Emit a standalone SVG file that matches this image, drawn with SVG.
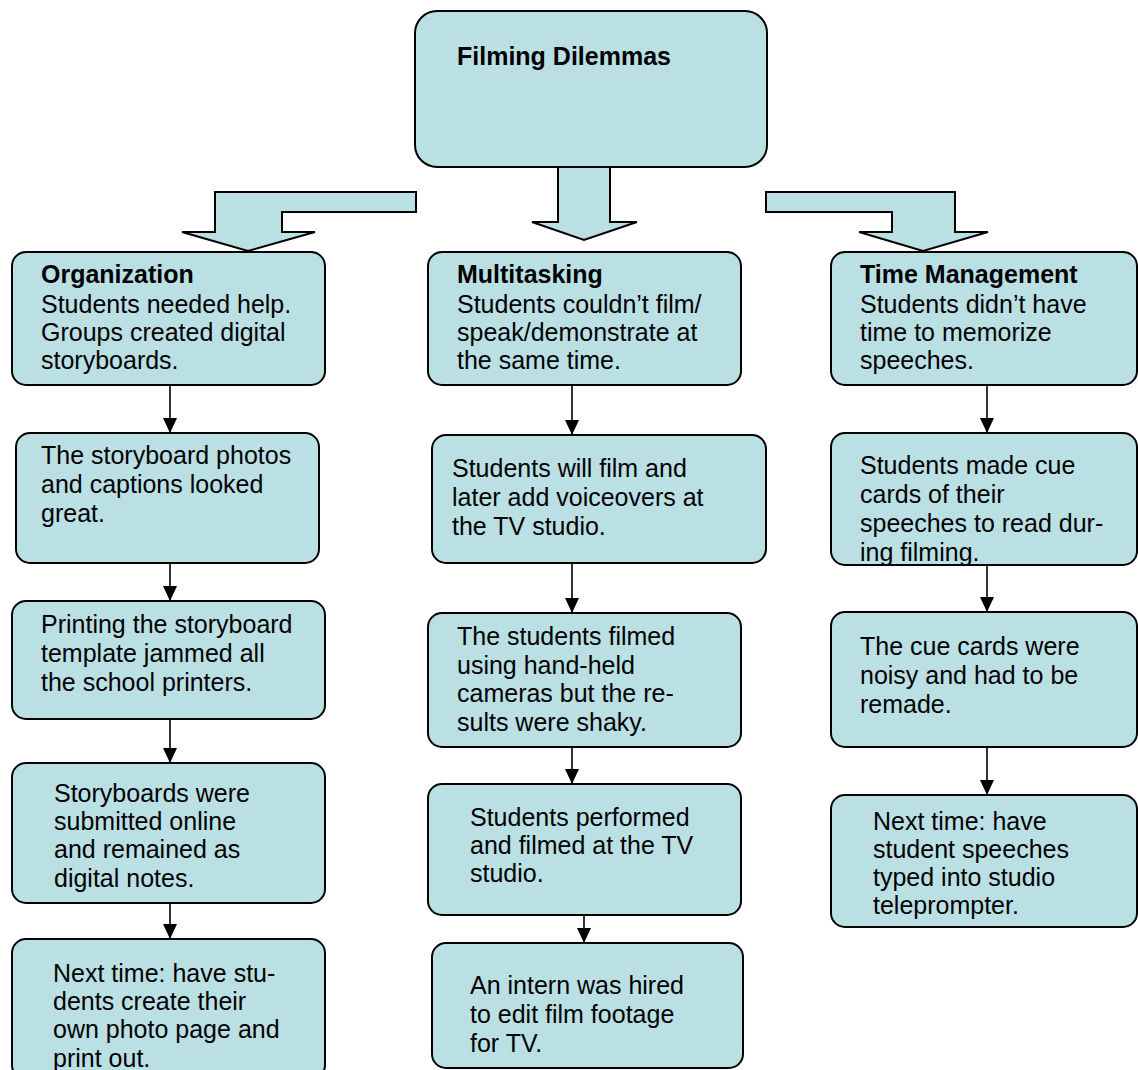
<svg xmlns="http://www.w3.org/2000/svg" width="1138" height="1070" viewBox="0 0 1138 1070">
<defs>
<style>
.box{fill:#BAE0E4;stroke:#000;stroke-width:2}
.blk{fill:#BAE0E4;stroke:#000;stroke-width:2;stroke-linejoin:miter}
.t{font-family:"Liberation Sans",Arial,sans-serif;font-size:25px;fill:#000}
.b{font-weight:bold}
.c{stroke:#000;stroke-width:1.6;fill:none}
</style>
<marker id="ah" markerUnits="userSpaceOnUse" markerWidth="16" markerHeight="16" refX="15" refY="7" orient="auto">
<path d="M0,0 L15,7 L0,14 z" fill="#000"/>
</marker>
</defs>
<rect width="1138" height="1070" fill="#fff"/>

<g id="connectors">
<polygon class="blk" points="416,192 215,192 215,232 182,232 248,251 315,232 282,232 282,212 416,212"/>
<polygon class="blk" points="558,167 610,167 610,222 637,222 584,240 532,222 558,222"/>
<polygon class="blk" points="766,192 955,192 955,232 988,232 923,251 859,232 892,232 892,212 766,212"/>
<line class="c" x1="170" y1="385" x2="170" y2="433" marker-end="url(#ah)"/>
<line class="c" x1="170" y1="563" x2="170" y2="601" marker-end="url(#ah)"/>
<line class="c" x1="170" y1="719" x2="170" y2="763" marker-end="url(#ah)"/>
<line class="c" x1="170" y1="903" x2="170" y2="939" marker-end="url(#ah)"/>
<line class="c" x1="572" y1="385" x2="572" y2="435" marker-end="url(#ah)"/>
<line class="c" x1="572" y1="563" x2="572" y2="613" marker-end="url(#ah)"/>
<line class="c" x1="572" y1="747" x2="572" y2="784" marker-end="url(#ah)"/>
<line class="c" x1="584" y1="915" x2="584" y2="943" marker-end="url(#ah)"/>
<line class="c" x1="987" y1="385" x2="987" y2="433" marker-end="url(#ah)"/>
<line class="c" x1="987" y1="565" x2="987" y2="612" marker-end="url(#ah)"/>
<line class="c" x1="987" y1="747" x2="987" y2="795" marker-end="url(#ah)"/>
</g>

<g id="root">
<rect class="box" x="415" y="11" width="352" height="156" rx="22"/>
<text class="t b" x="457" y="65">Filming Dilemmas</text>
</g>

<g id="org1">
<rect class="box" x="12" y="252" width="313" height="133" rx="14"/>
<text class="t" x="41"><tspan class="b" x="41" y="283">Organization</tspan><tspan x="41" y="313">Students needed help.</tspan><tspan x="41" y="341">Groups created digital</tspan><tspan x="41" y="369">storyboards.</tspan></text>
</g>
<g id="org2">
<rect class="box" x="16" y="433" width="303" height="130" rx="14"/>
<text class="t"><tspan x="41" y="464">The storyboard photos</tspan><tspan x="41" y="493">and captions looked</tspan><tspan x="41" y="522">great.</tspan></text>
</g>
<g id="org3">
<rect class="box" x="12" y="601" width="313" height="118" rx="14"/>
<text class="t"><tspan x="41" y="633">Printing the storyboard</tspan><tspan x="41" y="662">template jammed all</tspan><tspan x="41" y="691">the school printers.</tspan></text>
</g>
<g id="org4">
<rect class="box" x="12" y="763" width="313" height="140" rx="14"/>
<text class="t"><tspan x="54" y="802">Storyboards were</tspan><tspan x="54" y="830">submitted online</tspan><tspan x="54" y="858">and remained as</tspan><tspan x="54" y="887">digital notes.</tspan></text>
</g>
<g id="org5">
<rect class="box" x="12" y="939" width="313" height="140" rx="14"/>
<text class="t"><tspan x="53" y="982">Next time: have stu-</tspan><tspan x="53" y="1010">dents create their</tspan><tspan x="53" y="1038">own photo page and</tspan><tspan x="53" y="1067">print out.</tspan></text>
</g>

<g id="mt1">
<rect class="box" x="428" y="252" width="313" height="133" rx="14"/>
<text class="t"><tspan class="b" x="457" y="283">Multitasking</tspan><tspan x="457" y="313">Students couldn’t film/</tspan><tspan x="457" y="341">speak/demonstrate at</tspan><tspan x="457" y="369">the same time.</tspan></text>
</g>
<g id="mt2">
<rect class="box" x="432" y="435" width="334" height="128" rx="14"/>
<text class="t"><tspan x="452" y="477">Students will film and</tspan><tspan x="452" y="506">later add voiceovers at</tspan><tspan x="452" y="535">the TV studio.</tspan></text>
</g>
<g id="mt3">
<rect class="box" x="428" y="613" width="313" height="134" rx="14"/>
<text class="t"><tspan x="457" y="645">The students filmed</tspan><tspan x="457" y="674">using hand-held</tspan><tspan x="457" y="702">cameras but the re-</tspan><tspan x="457" y="731">sults were shaky.</tspan></text>
</g>
<g id="mt4">
<rect class="box" x="428" y="784" width="313" height="131" rx="14"/>
<text class="t"><tspan x="470" y="826">Students performed</tspan><tspan x="470" y="854">and filmed at the TV</tspan><tspan x="470" y="882">studio.</tspan></text>
</g>
<g id="mt5">
<rect class="box" x="432" y="943" width="311" height="125" rx="14"/>
<text class="t"><tspan x="470" y="994">An intern was hired</tspan><tspan x="470" y="1023">to edit film footage</tspan><tspan x="470" y="1052">for TV.</tspan></text>
</g>

<g id="tm1">
<rect class="box" x="831" y="252" width="306" height="133" rx="14"/>
<text class="t"><tspan class="b" x="860" y="283">Time Management</tspan><tspan x="860" y="313">Students didn’t have</tspan><tspan x="860" y="341">time to memorize</tspan><tspan x="860" y="369">speeches.</tspan></text>
</g>
<g id="tm2">
<rect class="box" x="831" y="433" width="306" height="132" rx="14"/>
<text class="t"><tspan x="860" y="474">Students made cue</tspan><tspan x="860" y="503">cards of their</tspan><tspan x="860" y="532">speeches to read dur-</tspan><tspan x="860" y="561">ing filming.</tspan></text>
</g>
<g id="tm3">
<rect class="box" x="831" y="612" width="306" height="135" rx="14"/>
<text class="t"><tspan x="860" y="655">The cue cards were</tspan><tspan x="860" y="684">noisy and had to be</tspan><tspan x="860" y="713">remade.</tspan></text>
</g>
<g id="tm4">
<rect class="box" x="831" y="795" width="306" height="132" rx="14"/>
<text class="t"><tspan x="873" y="830">Next time: have</tspan><tspan x="873" y="858">student speeches</tspan><tspan x="873" y="886">typed into studio</tspan><tspan x="873" y="914">teleprompter.</tspan></text>
</g>
</svg>
